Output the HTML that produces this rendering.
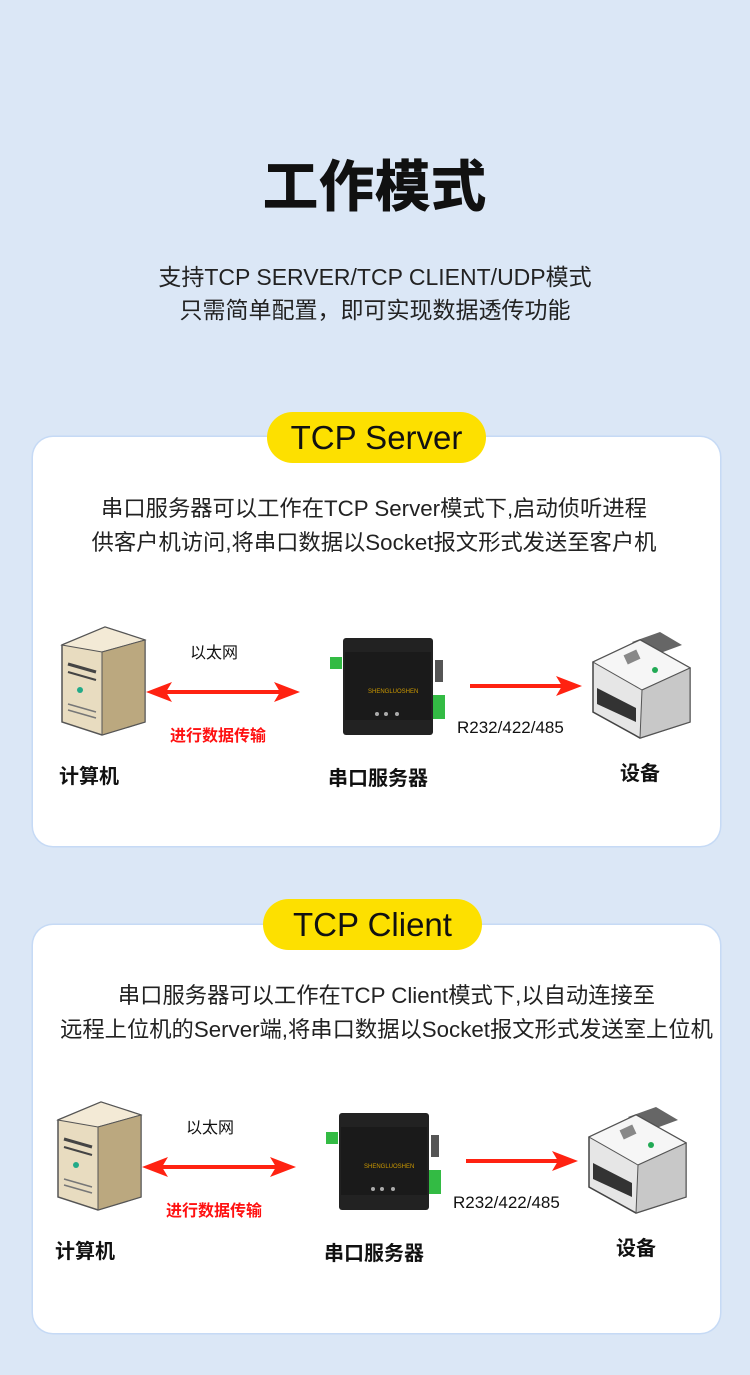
<!DOCTYPE html>
<html><head><meta charset="utf-8">
<style>
body{margin:0;}
#p{position:relative;width:750px;height:1375px;background:#dbe7f6;overflow:hidden;font-family:"Liberation Sans","Noto Sans CJK SC",sans-serif;color:#111;}
.a{position:absolute;white-space:nowrap;}
.card{position:absolute;left:33px;width:687px;background:#fff;border-radius:20px;box-shadow:0 0 0 1.5px #c6daf5;}
.pill{position:absolute;background:#fde000;border-radius:26px;text-align:center;font-size:33px;line-height:51px;color:#111;}
.c{text-align:center;}
.dg{position:absolute;left:0;width:750px;height:200px;}
</style></head><body><div id="p">
<div class="a c" style="left:0;width:750px;top:154px;font-size:55px;font-weight:bold;line-height:66px;letter-spacing:1px;-webkit-text-stroke:1px #111">工作模式</div>
<div class="a c" style="left:0;width:750px;top:261px;font-size:23px;line-height:33px;color:#222">支持TCP SERVER/TCP CLIENT/UDP模式<br>只需简单配置，即可实现数据透传功能</div>

<div class="card" style="top:437px;height:409px"></div>
<div class="pill" style="left:267px;top:412px;width:219px;height:51px">TCP Server</div>
<div class="a c" style="left:0;width:748px;top:492px;font-size:22.3px;line-height:34px;color:#222">串口服务器可以工作在TCP Server模式下,启动侦听进程<br>供客户机访问,将串口数据以Socket报文形式发送至客户机</div>

<div class="card" style="top:925px;height:408px"></div>
<div class="pill" style="left:263px;top:899px;width:219px;height:51px">TCP Client</div>
<div class="a c" style="left:0;width:773px;top:979px;font-size:22.3px;line-height:34px;color:#222">串口服务器可以工作在TCP Client模式下,以自动连接至<br>远程上位机的Server端,将串口数据以Socket报文形式发送室上位机</div>

<svg width="0" height="0" style="position:absolute">
<defs>
<g id="dg">
 <polygon points="62,645 105,627 145,640 145,722 102,735 62,722" fill="#e8dcc0" stroke="#555" stroke-width="1.5"/>
 <polygon points="62,645 105,627 145,640 102,652" fill="#f3ead6" stroke="#555" stroke-width="1"/>
 <polygon points="102,652 145,640 145,722 102,735" fill="#bba87f" stroke="#555" stroke-width="1"/>
 <line x1="68" y1="664" x2="96" y2="672" stroke="#444" stroke-width="3"/>
 <line x1="68" y1="672" x2="96" y2="680" stroke="#444" stroke-width="2"/>
 <circle cx="80" cy="690" r="3" fill="#2a8"/>
 <line x1="68" y1="704" x2="96" y2="712" stroke="#777" stroke-width="1.5"/>
 <line x1="68" y1="710" x2="96" y2="718" stroke="#777" stroke-width="1.5"/>
 <line x1="160" y1="692" x2="285" y2="692" stroke="#f21" stroke-width="4"/>
 <polygon points="146,692 172,682 166,692 172,702" fill="#f21"/>
 <polygon points="300,692 274,682 280,692 274,702" fill="#f21"/>
 <text x="190" y="658" font-size="16" fill="#111" font-family="Liberation Sans,Noto Sans CJK SC,sans-serif">以太网</text>
 <text x="170" y="741" font-size="16" fill="#f11" font-weight="bold" font-family="Liberation Sans,Noto Sans CJK SC,sans-serif">进行数据传输</text>
 <text x="59" y="783" font-size="20" fill="#111" font-weight="bold" font-family="Liberation Sans,Noto Sans CJK SC,sans-serif">计算机</text>
 <rect x="343" y="638" width="90" height="97" fill="#222" rx="3"/>
 <rect x="345" y="652" width="86" height="68" fill="#1a1a1a"/>
 <rect x="330" y="657" width="12" height="12" fill="#3b4"/>
 <rect x="433" y="695" width="12" height="24" fill="#3b4"/>
 <rect x="435" y="660" width="8" height="22" fill="#555"/>
 <text x="368" y="693" font-size="6" fill="#c90">SHENGLUOSHEN</text>
 <circle cx="377" cy="714" r="2" fill="#aaa"/><circle cx="386" cy="714" r="2" fill="#aaa"/><circle cx="397" cy="714" r="2" fill="#aaa"/>
 <text x="328" y="785" font-size="20" fill="#111" font-weight="bold" font-family="Liberation Sans,Noto Sans CJK SC,sans-serif">串口服务器</text>
 <line x1="470" y1="686" x2="565" y2="686" stroke="#f21" stroke-width="4"/>
 <polygon points="582,686 556,676 562,686 556,696" fill="#f21"/>
 <text x="457" y="733" font-size="17" fill="#111" font-family="Liberation Sans,sans-serif">R232/422/485</text>
 <polygon points="632,642 660,632 682,645 655,655" fill="#666"/>
 <polygon points="593,662 640,640 690,668 690,722 640,738 593,712" fill="#e6e6e6" stroke="#444" stroke-width="1.5"/>
 <polygon points="593,662 640,640 690,668 642,690" fill="#f6f6f6" stroke="#555" stroke-width="1"/>
 <polygon points="642,690 690,668 690,722 640,738" fill="#c8c8c8" stroke="#555" stroke-width="1"/>
 <polygon points="597,688 636,708 636,722 597,704" fill="#333"/>
 <circle cx="655" cy="670" r="3" fill="#2a5"/>
 <rect x="625" y="652" width="14" height="10" fill="#888" transform="rotate(-25 632 657)"/>
 <text x="620" y="780" font-size="20" fill="#111" font-weight="bold" font-family="Liberation Sans,Noto Sans CJK SC,sans-serif">设备</text>
</g>
</defs>
</svg>
<svg class="dg" style="top:0;height:1375px" width="750" height="1375" viewBox="0 0 750 1375">
 <use href="#dg"/>
 <use href="#dg" transform="translate(-4,475)"/>
</svg>
</div></body></html>
